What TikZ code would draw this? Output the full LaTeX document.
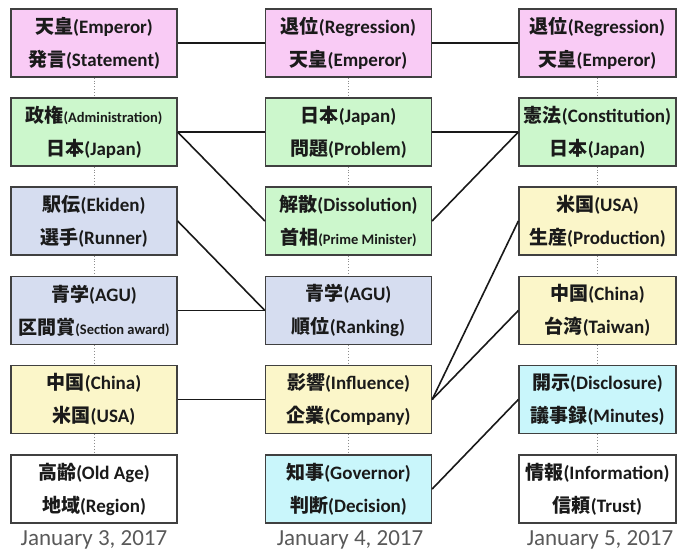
\documentclass[tikz,border=0pt]{standalone}
\usepackage{fontspec}
\setmainfont{Carlito}
\newfontfamily\jpfont{Noto Sans CJK JP}
\newcommand{\jt}[1]{{\jpfont #1}}
\newcommand{\sm}[1]{{\fontsize{14.5}{16}\selectfont #1}}
\definecolor{cpink}{HTML}{F9CBF5}
\definecolor{cgreen}{HTML}{CCF7CC}
\definecolor{cblue}{HTML}{D6DDF0}
\definecolor{cyel}{HTML}{FBF6C9}
\definecolor{ccyan}{HTML}{C9F6FB}
\definecolor{cwhite}{HTML}{FFFFFF}
\definecolor{txt}{HTML}{1A1A1A}
\tikzset{
  box/.style={draw=black!75, line width=1.3pt, rectangle, minimum height=68pt,
    inner sep=0pt, align=center, text=txt,
    font=\bfseries\fontsize{19}{33}\selectfont},
  w1/.style={minimum width=166pt},
  w3/.style={minimum width=157pt},
  conn/.style={line width=1.6pt, black!90},
  dots/.style={draw=black!45, line width=0.9pt, dotted},
  datelbl/.style={font=\fontsize{23}{25}\selectfont, text=black!65, inner sep=0pt}
}
\begin{document}
\begin{tikzpicture}[x=1pt,y=-1pt]
\useasboundingbox (0,0) rectangle (678,555);
% column 1
\node[box,w1,fill=cpink]  (a1) at (94,43)    {\jt{天皇}(Emperor)\\\jt{発言}(Statement)};
\node[box,w1,fill=cgreen] (a2) at (94,132)   {\jt{政権}\sm{(Administration)}\\\jt{日本}(Japan)};
\node[box,w1,fill=cblue]  (a3) at (94,221)   {\jt{駅伝}(Ekiden)\\\jt{選手}(Runner)};
\node[box,w1,fill=cblue]  (a4) at (94,310.5) {\jt{青学}(AGU)\\\jt{区間賞}\sm{(Section award)}};
\node[box,w1,fill=cyel]   (a5) at (94,399.5) {\jt{中国}(China)\\\jt{米国}(USA)};
\node[box,w1,fill=cwhite] (a6) at (94,489)   {\jt{高齢}(Old Age)\\\jt{地域}(Region)};
% column 2
\node[box,w1,fill=cpink]  (b1) at (348.5,43)    {\jt{退位}(Regression)\\\jt{天皇}(Emperor)};
\node[box,w1,fill=cgreen] (b2) at (348.5,132)   {\jt{日本}(Japan)\\\jt{問題}(Problem)};
\node[box,w1,fill=cgreen] (b3) at (348.5,221)   {\jt{解散}(Dissolution)\\\jt{首相}\sm{(Prime Minister)}};
\node[box,w1,fill=cblue]  (b4) at (348.5,310.5) {\jt{青学}(AGU)\\\jt{順位}(Ranking)};
\node[box,w1,fill=cyel]   (b5) at (348.5,399.5) {\jt{影響}(Influence)\\\jt{企業}(Company)};
\node[box,w1,fill=ccyan]  (b6) at (348.5,489)   {\jt{知事}(Governor)\\\jt{判断}(Decision)};
% column 3
\node[box,w3,fill=cpink]  (c1) at (597.5,43)    {\jt{退位}(Regression)\\\jt{天皇}(Emperor)};
\node[box,w3,fill=cgreen] (c2) at (597.5,132)   {\jt{憲法}(Constitution)\\\jt{日本}(Japan)};
\node[box,w3,fill=cyel]   (c3) at (597.5,221)   {\jt{米国}(USA)\\\jt{生産}(Production)};
\node[box,w3,fill=cyel]   (c4) at (597.5,310.5) {\jt{中国}(China)\\\jt{台湾}(Taiwan)};
\node[box,w3,fill=ccyan]  (c5) at (597.5,399.5) {\jt{開示}(Disclosure)\\\jt{議事録}(Minutes)};
\node[box,w3,fill=cwhite] (c6) at (597.5,489)   {\jt{情報}(Information)\\\jt{信頼}(Trust)};
% dates
\node[datelbl] (d1) at (94,540)  {January 3, 2017};
\node[datelbl] (d2) at (350,540) {January 4, 2017};
\node[datelbl] (d3) at (600,540) {January 5, 2017};
% dotted column links
\foreach \c in {a,b,c}{
  \foreach \i/\j in {1/2,2/3,3/4,4/5,5/6}{
    \draw[dots] (\c\i.south) -- (\c\j.north);
  }
}
% connectors
\draw[conn] (a1.east) -- (b1.west);
\draw[conn] (b1.east) -- (c1.west);
\draw[conn] (a2.east) -- (b2.west);
\draw[conn] (a2.east) -- (b3.west);
\draw[conn] (b2.east) -- (c2.west);
\draw[conn] (b3.east) -- (c2.west);
\draw[conn] (a3.east) -- (b4.west);
\draw[conn] (a4.east) -- (b4.west);
\draw[conn] (a5.east) -- (b5.west);
\draw[conn] (b5.east) -- (c3.west);
\draw[conn] (b5.east) -- (c4.west);
\draw[conn] (b6.east) -- (c5.west);
\end{tikzpicture}
\end{document}
